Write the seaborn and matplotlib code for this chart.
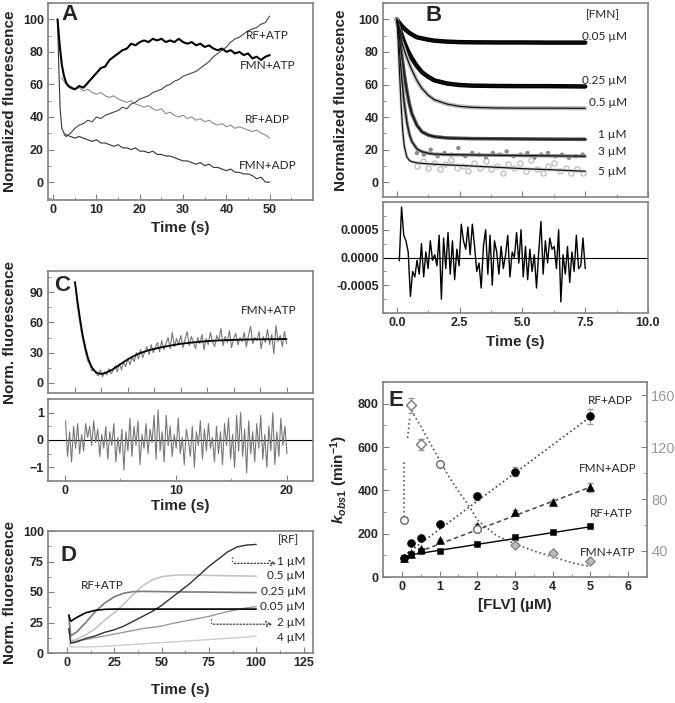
import numpy as np
import matplotlib
matplotlib.use('Agg')
import matplotlib.pyplot as plt
import seaborn as sns
from matplotlib.ticker import AutoMinorLocator, FixedLocator

# ---------------- panel A : normalized fluorescence traces (0-50 s)
a_t_fmn_atp = [1.0, 1.5, 2.0, 2.5, 3.0, 3.5, 4.0] + list(range(5, 51))
a_fmn_atp = [100, 84, 72, 65, 61, 59, 58,
             57, 59, 58, 61, 64, 67, 70, 71, 75, 77, 79, 81, 82, 85, 84, 86, 87, 86, 88, 87,
             88, 86, 87, 86, 88, 86, 85, 86, 84, 85, 83, 84, 82, 81, 82, 80, 81, 79, 80, 78,
             79, 76, 77, 75, 77, 78]
a_t_rf_atp = [2.5, 3.0, 4.0] + list(range(5, 51))
a_rf_atp = [29, 28, 30,
            33, 35, 36, 38, 37, 40, 39, 41, 42, 43, 44, 46, 45, 48, 49, 51, 52, 53, 55, 56,
            57, 59, 60, 62, 63, 65, 66, 67, 68, 70, 72, 74, 77, 79, 81, 83, 86, 88, 89, 91,
            93, 94, 95, 97, 98, 102]
a_t_rf_adp = [1.9, 2.5, 3.0, 4.0] + list(range(5, 51))
a_rf_adp = [64, 62, 60, 59,
            57, 58, 56, 57, 55, 54, 55, 53, 52, 53, 51, 50, 49, 50, 48, 47, 46, 47, 45, 44,
            45, 42, 43, 41, 40, 41, 39, 40, 38, 39, 37, 38, 36, 35, 36, 34, 35, 33, 34, 33,
            32, 31, 32, 30, 29, 27]
a_t_fmn_adp = [1.0, 1.3, 1.6, 2.0, 2.5, 3.0, 4.0] + list(range(5, 51))
a_fmn_adp = [100, 70, 45, 33, 30, 29, 28,
             27, 28, 27, 26, 25, 26, 24, 24, 23, 22, 23, 21, 21, 20, 21, 19, 19, 18, 19, 17,
             17, 16, 16, 15, 14, 13, 13, 12, 11, 12, 10, 11, 9, 9, 8, 7, 8, 6, 6, 5,
             5, 4, 2, 3, 0, 0]

# ---------------- panel B : FMN titration, fits and residuals
b_t = [0, 0.05, 0.1, 0.15, 0.2, 0.25, 0.3, 0.4, 0.5, 0.6, 0.8, 1.0, 1.25, 1.5, 2.0, 2.5,
       3.0, 4.0, 5.0, 6.0, 7.5]
b_fit_005 = [100, 98.8, 97.8, 96.8, 95.9, 95.1, 94.3, 92.9, 91.7, 90.7, 89.0, 88.3, 87.5,
             86.9, 86.3, 86.0, 85.9, 85.8, 85.8, 85.7, 85.7]
b_fit_025 = [100, 97.3, 94.7, 92.3, 90.0, 87.8, 85.7, 82.0, 78.8, 76.0, 71.3, 67.6, 64.7,
             62.5, 60.6, 59.7, 59.3, 59.1, 59.0, 59.0, 58.8]
b_fit_05 = [100, 96.1, 92.6, 89.4, 86.4, 83.6, 81.0, 76.6, 72.5, 68.9, 62.5, 57.6, 53.4,
            50.6, 48.0, 46.6, 46.0, 45.6, 45.5, 45.5, 45.4]
b_fit_1 = [100, 96, 90, 83, 77, 72, 66, 56, 48, 42, 35, 31, 29, 28, 27.2, 27.0, 26.8, 26.7,
           26.6, 26.5, 26.4]
b_fit_3 = [100, 93, 82, 72, 63, 55, 48, 37, 29.5, 25, 20.5, 18.8, 17.8, 17.3, 17.0, 16.9,
           16.8, 16.6, 16.4, 16.3, 16.0]
b_fit_5 = [100, 88, 70, 54, 40, 29, 22, 15.5, 13.5, 12.6, 12.0, 11.6, 11.3, 11.1, 10.7,
           10.4, 10.0, 9.2, 8.4, 7.8, 6.8]
b_pts_3 = [18, 17, 20, 16, 18, 17, 21, 16, 18, 17, 15, 18, 17, 19, 16, 17, 18, 15, 17, 18,
           16, 17, 15, 16, 17]
b_pts_5 = [10, 13, 9, 12, 8, 11, 14, 9, 10, 7, 12, 9, 13, 8, 10, 6, 11, 9, 12, 7, 14, 8, 6,
           10, 12, 7, 9, 6, 8, 6]
b_labels = ['0.05 µM', '0.25 µM', '0.5 µM', '1 µM', '3 µM', '5 µM']
b_label_y = [89.4, 62.3, 49, 29.6, 18.7, 6.4]
# residuals in units of 1e-4
b_resid = [-0.6, 9.1, 4.0, 3.0, 1.0, -7.0, -2.5, -3.5, -0.5, -3.0, 2.5, -3.5, 1.0, -2.0, 3.0,
           -0.5, 0.5, -1.5, 4.0, -7.5, 3.5, -2.0, 4.5, -3.0, 3.0, -4.0, 1.5, -1.5, 6.0, 3.0,
           1.5, 5.5, 0.5, 6.0, 2.0, -2.5, -1.0, -5.5, 2.0, 5.0, -3.0, 4.0, -5.0, 3.0, 1.0,
           -3.0, 2.0, -2.0, 0.5, 4.0, -3.5, 1.0, 0.0, 4.5, -1.0, 5.0, -3.5, 2.0, -4.0, 1.5,
           -2.5, 0.5, -5.5, 1.0, 6.5, -3.0, 3.0, -1.0, 3.5, 1.5, 2.0, -2.0, 5.0, -8.0, 0.5,
           -3.0, 2.0, -4.5, 1.0, -2.5, 4.0, -2.0, -1.5, 3.5, -2.0]

# ---------------- panel C : FMN+ATP trace, fit and residuals
c_fit_t = [0, 0.25, 0.5, 0.75, 1.0, 1.25, 1.5, 1.75, 2.0, 2.25, 2.5, 2.75, 3.0, 3.5, 4.0,
           4.5, 5, 6, 7, 8, 9, 10, 11, 12, 13, 14, 15, 16, 17, 18, 19, 20]
c_fit = [100, 80, 62, 46, 34, 24, 17.5, 13, 10.5, 9.3, 9.0, 9.5, 10.5, 13, 16.5, 20, 23.5,
         29, 32.5, 35, 37, 38.8, 40, 41, 41.8, 42.3, 42.7, 43, 43.2, 43.3, 43.4, 43.5]
c_data = [100, 78, 64, 50, 40, 30, 22, 18, 12, 14, 9,
          7, 13, 6, 11, 8, 14, 9, 12, 17, 11,
          19, 13, 21, 16, 24, 18, 26, 21, 30, 24,
          33, 25, 31, 36, 28, 38, 30, 35, 40, 31,
          42, 33, 39, 45, 34, 50, 36, 44, 38, 47,
          35, 43, 51, 37, 46, 40, 34, 45, 39, 48,
          33, 44, 38, 50, 41, 36, 47, 42, 54, 37,
          46, 40, 52, 35, 44, 49, 38, 45, 41, 50,
          36, 47, 56, 39, 45, 42, 51, 34, 46, 40,
          53, 38, 48, 29, 57, 41, 47, 36, 51, 39]
c_resid = [0.7, -0.6, 0.3, -0.8, 0.5, -0.3, 0.6, -0.5, 0.2, -0.4, 0.6, 0.1, 0.5, -0.2, 0.7,
           -0.1, 0.4, -0.6, 0.2, -0.3, 0.5, -0.7, 0.3, -0.2, 0.6, -0.8, 0.1, -0.5, 0.4, -1.1,
           0.3, -0.4, 0.8, -0.6, 0.5, -0.2, 0.7, -0.9, 0.2, -0.3, 0.6, -0.5, 0.4, -0.1, 0.9,
           -0.7, 1.1, -0.4, 0.3, -0.8, 0.9, -0.2, 0.5, -0.6, 0.2, -0.3, 0.8, -0.5, 0.1, -0.9,
           0.4, 0.0, -0.6, 0.5, -1.0, 0.3, -0.2, 0.7, -0.7, 0.4, -0.4, 0.6, -0.3, 0.1, -0.8,
           0.5, -0.5, 0.3, -0.9, 0.6, -0.2, 0.8, -0.7, 0.2, -1.0, 0.9, -0.4, 1.0, -0.6, 0.4,
           -1.2, 0.7, -0.5, 0.3, -0.8, 0.6, -0.3, 0.9, -0.7, 0.2, -1.0, 0.5, -0.4, 1.0, -0.9,
           0.3, -0.6, 0.8, -0.2, 0.5, -0.5]

# ---------------- panel D : RF titration with ATP
d_t = [1, 2, 5, 10, 15, 20, 25, 30, 35, 40, 45, 50, 55, 60, 65, 70, 75, 80, 85, 90, 95, 100]
d_005 = [31, 26, 29, 33, 35, 35.8, 36, 36, 36, 36, 36, 36, 36, 36, 36, 36, 36, 36, 36, 36,
         36, 36]
d_025 = [31, 14, 17, 25, 34, 41, 46, 49, 50.3, 50.5, 50.4, 50.3, 50.2, 50.1, 50, 50, 49.9,
         49.8, 49.7, 49.6, 49.5, 49.5]
d_05 = [31, 10, 11, 15, 20, 27, 33, 40, 48, 55, 60, 62.5, 63.5, 64, 64, 63.8, 63.6, 63.5,
        63.3, 63.2, 63.1, 63]
d_1 = [20, 8, 9, 12, 14, 17, 19, 22, 26, 30, 34, 39, 45, 51, 57, 64, 71, 77, 83, 87, 88.5, 89]
d_2 = [20, 9, 10, 11, 12.5, 14, 15.5, 17, 18.5, 20, 21, 22, 24, 25.5, 27, 28.5, 30, 32, 34,
       35.5, 37, 38]
d_4 = [8, 5, 5, 5, 5.2, 5.5, 6, 6.5, 7, 7.5, 8, 8.5, 9, 9.5, 10, 10.5, 11, 11.5, 12, 12.5,
       13, 14]
d_labels = ['1 µM', '0.5 µM', '0.25 µM', '0.05 µM', '2 µM', '4 µM']
d_label_y = [75.3, 63.3, 50.7, 37.8, 25, 12.6]

# ---------------- panel E : observed rate constants vs [FLV]
e_x_rf_adp = [0.05, 0.25, 0.5, 1, 2, 3, 5]
e_rf_adp = [88, 157, 180, 243, 372, 486, 741]
e_rf_adp_err = [4, 6, 6, 8, 15, 20, 35]
e_x_fmn_adp = [0.05, 0.25, 0.5, 1, 2, 3, 4, 5]
e_fmn_adp = [88, 108, 130, 170, 237, 302, 346, 414]
e_fmn_adp_err = [4, 5, 5, 6, 8, 8, 8, 20]
e_x_rf_atp = [0.05, 0.25, 0.5, 1, 2, 3, 4, 5]
e_rf_atp = [88, 104, 121, 119, 152, 185, 206, 234]
e_x_fmn_atp = [0.05, 0.25, 0.5, 1, 2, 3, 4, 5]
e_fmn_atp = [64, 152, 122, 107, 57, 45, 38.5, 32]
e_fmn_atp_err = [1, 6, 4, 1, 1.5, 1.5, 1.5, 1.5]
e_fmn_atp_curve_x = [0.25, 0.5, 0.75, 1.0, 1.25, 1.5, 1.75, 2.0, 2.5, 3.0, 3.5, 4.0, 4.5, 5.0]
e_fmn_atp_curve = [148, 136, 123, 110, 97, 86, 76, 64, 52, 45.5, 40, 35.5, 31, 28]

sns.set_style('ticks')
plt.rcParams['font.family'] = ['Liberation Sans', 'DejaVu Sans']
plt.rcParams['font.weight'] = 'bold'
plt.rcParams['axes.labelweight'] = 'bold'
plt.rcParams['mathtext.fontset'] = 'custom'
plt.rcParams['mathtext.it'] = 'Liberation Sans:bold:italic'
plt.rcParams['mathtext.rm'] = 'Liberation Sans:bold'
plt.rcParams['mathtext.default'] = 'it'

W, H = 675, 703
fig = plt.figure(figsize=(W / 100, H / 100), dpi=100)


def axes_px(left, top, right, bottom):
    return fig.add_axes([left / W, 1 - bottom / H, (right - left) / W, (bottom - top) / H])


def style(ax, xminor=2, yminor=2):
    for s in ax.spines.values():
        s.set_color('#808080')
        s.set_linewidth(1.2)
    ax.tick_params(which='both', direction='in', color='#808080', labelsize=9, pad=3)
    ax.tick_params(which='major', length=4)
    ax.tick_params(which='minor', length=2)
    if xminor:
        ax.xaxis.set_minor_locator(AutoMinorLocator(xminor))
    if yminor:
        ax.yaxis.set_minor_locator(AutoMinorLocator(yminor))


def line(ax, x, y, **kw):
    sns.lineplot(x=np.asarray(x, float), y=np.asarray(y, float), ax=ax, estimator=None,
                 sort=False, legend=False, **kw)


def note(ax, x, y, s, ha='center', size=8.5):
    ax.text(x, y, s, ha=ha, va='center', fontsize=size, fontweight='normal', family='Lato',
            color='#222')


def letter(ax, x, y, s):
    ax.text(x, y, s, transform=ax.transAxes, ha='center', va='center', fontsize=16,
            fontweight='bold')


# ---------------- A
axA = axes_px(48, 3, 313, 200)
line(axA, a_t_rf_adp, a_rf_adp, color='#8a8a8a', lw=0.8)
line(axA, a_t_fmn_adp, a_fmn_adp, color='#333', lw=0.8)
line(axA, a_t_rf_atp, a_rf_atp, color='#444', lw=0.8)
line(axA, a_t_fmn_atp, a_fmn_atp, color='black', lw=1.5)
axA.set_xlim(-1.2, 60)
axA.set_ylim(-11, 110)
axA.set_xticks([0, 10, 20, 30, 40, 50])
axA.set_yticks([0, 20, 40, 60, 80, 100])
style(axA)
axA.xaxis.set_minor_locator(FixedLocator([5, 15, 25, 35, 45, 55]))
note(axA, 49.5, 89.8, 'RF+ATP')
note(axA, 49.5, 71.4, 'FMN+ATP')
note(axA, 49.5, 38.6, 'RF+ADP')
note(axA, 49.5, 10, 'FMN+ADP')
axA.set_xlabel('Time (s)', fontsize=11)
axA.set_ylabel('Normalized fluorescence', fontsize=11)
axA.xaxis.set_label_coords(0.5, -0.105)
axA.yaxis.set_label_coords(-0.117, 0.5)
letter(axA, 0.083, 0.94, 'A')

# ---------------- B
axB = axes_px(383, 3, 648, 197)
data_styles = [('black', 3.2), ('black', 3.2), ('#bdbdbd', 3.0), ('#555', 2.6),
               ('#8c8c8c', 2.4), ('#cfcfcf', 2.2)]
fits = [b_fit_005, b_fit_025, b_fit_05, b_fit_1, b_fit_3, b_fit_5]
for f, (c, w) in zip(fits, data_styles):
    line(axB, b_t, f, color=c, lw=w)
sns.scatterplot(x=np.linspace(0.8, 7.4, len(b_pts_3)), y=b_pts_3, ax=axB, color='#8c8c8c',
                s=10, edgecolor='none', legend=False)
sns.scatterplot(x=np.linspace(0.8, 7.4, len(b_pts_5)), y=b_pts_5, ax=axB, color='white',
                s=14, edgecolor='#b5b5b5', linewidth=0.8, legend=False)
for f in fits:
    line(axB, b_t, f, color='#111', lw=0.9)
axB.set_xlim(-0.55, 10)
axB.set_ylim(-9, 110)
axB.set_xticks([0, 2.5, 5, 7.5, 10])
axB.set_xticklabels([])
axB.set_yticks([0, 20, 40, 60, 80, 100])
style(axB)
note(axB, 8.2, 102.8, '[FMN]')
for s, y in zip(b_labels, b_label_y):
    note(axB, 9.15, y, s, ha='right')
axB.set_ylabel('Normalized fluorescence', fontsize=11)
axB.yaxis.set_label_coords(-0.132, 0.5)
letter(axB, 0.189, 0.938, 'B')

axBr = axes_px(383, 202, 648, 313)
axBr.axhline(0, color='black', lw=0.8)
line(axBr, np.linspace(0.1, 7.5, len(b_resid)), np.array(b_resid) * 1e-4, color='black', lw=1.0)
axBr.set_xlim(-0.55, 10)
axBr.set_ylim(-0.001, 0.001)
axBr.set_xticks([0, 2.5, 5, 7.5, 10])
axBr.set_xticklabels(['0.0', '2.5', '5.0', '7.5', '10.0'])
axBr.set_yticks([-0.0005, 0, 0.0005])
axBr.set_yticklabels(['-0.0005', '0.0000', '0.0005'])
style(axBr)
axBr.set_xlabel('Time (s)', fontsize=11)
axBr.xaxis.set_label_coords(0.5, -0.2)

# ---------------- C
axC = axes_px(48, 271, 313, 393)
line(axC, np.linspace(0, 20, len(c_data)), c_data, color='#777', lw=0.8)
line(axC, c_fit_t, c_fit, color='black', lw=1.3)
axC.set_xlim(-2.55, 22.5)
axC.set_ylim(-10, 111)
axC.set_xticks(np.arange(0, 20.1, 2.5))
axC.set_xticklabels([])
axC.set_yticks([0, 30, 60, 90])
style(axC, xminor=None)
note(axC, 18.3, 72, 'FMN+ATP')
axC.set_ylabel('Norm. fluorescence', fontsize=11)
axC.yaxis.set_label_coords(-0.117, 0.5)
letter(axC, 0.055, 0.885, 'C')

axCr = axes_px(48, 399, 313, 481)
axCr.axhline(0, color='black', lw=0.8)
line(axCr, np.linspace(0.05, 20, len(c_resid)), c_resid, color='#777', lw=0.8)
axCr.set_xlim(-1.53, 22.35)
axCr.set_ylim(-1.5, 1.5)
axCr.set_xticks([0, 10, 20])
axCr.set_yticks([-1, 0, 1])
style(axCr)
axCr.set_xlabel('Time (s)', fontsize=11)
axCr.xaxis.set_label_coords(0.5, -0.22)

# ---------------- D
axD = axes_px(48, 531, 313, 653)
for y, c, w in [(d_4, '#cccccc', 1.0), (d_2, '#9a9a9a', 1.0), (d_05, '#c4c4c4', 1.2),
                (d_025, '#7a7a7a', 1.2), (d_1, '#303030', 1.0), (d_005, 'black', 1.2)]:
    line(axD, d_t, y, color=c, lw=w)
line(axD, [87, 87], [79, 73.5], color='#333', lw=0.9, linestyle=':')
axD.annotate('', xy=(112, 73.5), xytext=(87, 73.5),
             arrowprops=dict(arrowstyle='->', linestyle=':', color='#333', lw=0.9))
line(axD, [76, 76], [28.2, 23.6], color='#333', lw=0.9, linestyle=':')
axD.annotate('', xy=(110, 23.6), xytext=(76, 23.6),
             arrowprops=dict(arrowstyle='->', linestyle=':', color='#333', lw=0.9))
axD.set_xlim(-10, 130)
axD.set_ylim(0, 100)
axD.set_xticks([0, 25, 50, 75, 100, 125])
axD.set_yticks([0, 25, 50, 75, 100])
style(axD)
note(axD, 117, 92.6, '[RF]')
for s, y in zip(d_labels, d_label_y):
    note(axD, 126, y, s, ha='right')
note(axD, 18.5, 55.6, 'RF+ATP')
axD.set_xlabel('Time (s)', fontsize=11)
axD.set_ylabel('Norm. fluorescence', fontsize=11)
axD.xaxis.set_label_coords(0.5, -0.245)
axD.yaxis.set_label_coords(-0.117, 0.5)
letter(axD, 0.077, 0.803, 'D')

# ---------------- E
axE = axes_px(383, 382, 647, 577)
axE2 = axE.twinx()
line(axE, [0.05, 5], [97, 740], color='#444', lw=1.2, linestyle=':')
line(axE, [0.05, 5], [90, 415], color='#444', lw=1.1, linestyle=(0, (3, 2)))
line(axE, [0.25, 5], [103, 232], color='black', lw=1.0)
axE.errorbar(e_x_rf_adp, e_rf_adp, yerr=e_rf_adp_err, fmt='none', ecolor='#999', capsize=2.5,
             lw=0.8)
axE.errorbar(e_x_fmn_adp, e_fmn_adp, yerr=e_fmn_adp_err, fmt='none', ecolor='#999',
             capsize=2.5, lw=0.8)
sns.scatterplot(x=e_x_rf_adp, y=e_rf_adp, ax=axE, marker='o', s=32, color='black',
                edgecolor='black', legend=False, zorder=3)
sns.scatterplot(x=e_x_fmn_adp, y=e_fmn_adp, ax=axE, marker='^', s=32, color='black',
                edgecolor='black', legend=False, zorder=3)
sns.scatterplot(x=e_x_rf_atp, y=e_rf_atp, ax=axE, marker='s', s=22, color='black',
                edgecolor='black', legend=False, zorder=3)

line(axE2, [0.07, 0.07], [66, 110], color='#555', lw=1.2, linestyle=':')
line(axE2, [0.15, 0.22], [127, 144], color='#555', lw=1.2, linestyle=':')
line(axE2, e_fmn_atp_curve_x, e_fmn_atp_curve, color='#555', lw=1.2, linestyle=':')
axE2.errorbar(e_x_fmn_atp, e_fmn_atp, yerr=e_fmn_atp_err, fmt='none', ecolor='#999',
              capsize=2.5, lw=0.8)
circ = [0, 3, 4]
diam = [1, 2]
grey = [5, 6, 7]
sns.scatterplot(x=[e_x_fmn_atp[i] for i in circ], y=[e_fmn_atp[i] for i in circ], ax=axE2,
                marker='o', s=30, color='white', edgecolor='#666', linewidth=1, legend=False,
                zorder=3)
sns.scatterplot(x=[e_x_fmn_atp[i] for i in diam], y=[e_fmn_atp[i] for i in diam], ax=axE2,
                marker='D', s=26, color='white', edgecolor='#777', linewidth=1, legend=False,
                zorder=3)
sns.scatterplot(x=[e_x_fmn_atp[i] for i in grey], y=[e_fmn_atp[i] for i in grey], ax=axE2,
                marker='D', s=22, color='#bbbbbb', edgecolor='#888', linewidth=1, legend=False,
                zorder=3)

axE.set_xlim(-0.5, 6.5)
axE.set_ylim(0, 900)
axE.set_xticks([0, 1, 2, 3, 4, 5, 6])
axE.set_yticks([0, 200, 400, 600, 800])
style(axE)
axE2.set_ylim(20, 170)
axE2.set_yticks([40, 80, 120, 160])
style(axE2, xminor=None)
axE2.tick_params(axis='y', labelsize=10.5, labelcolor='#999')
for s in axE2.spines.values():
    s.set_visible(False)
note(axE, 5.54, 815, 'RF+ADP')
note(axE, 5.45, 500, 'FMN+ADP')
note(axE, 5.54, 293, 'RF+ATP')
note(axE, 5.45, 115, 'FMN+ATP')
axE.set_xlabel('[FLV] (µM)', fontsize=11)
axE.set_ylabel(r'$k_{obs1}$ (min$^{\mathrm{-1}}$)', fontsize=11)
axE.xaxis.set_label_coords(0.5, -0.11)
axE.yaxis.set_label_coords(-0.125, 0.5)
letter(axE, 0.049, 0.903, 'E')

# bold tick labels everywhere except the grey right axis of E
for ax in fig.axes:
    for lbl in ax.get_xticklabels() + ax.get_yticklabels():
        lbl.set_fontweight('normal' if ax is axE2 else 'bold')

fig.savefig('out.png', dpi=100)
